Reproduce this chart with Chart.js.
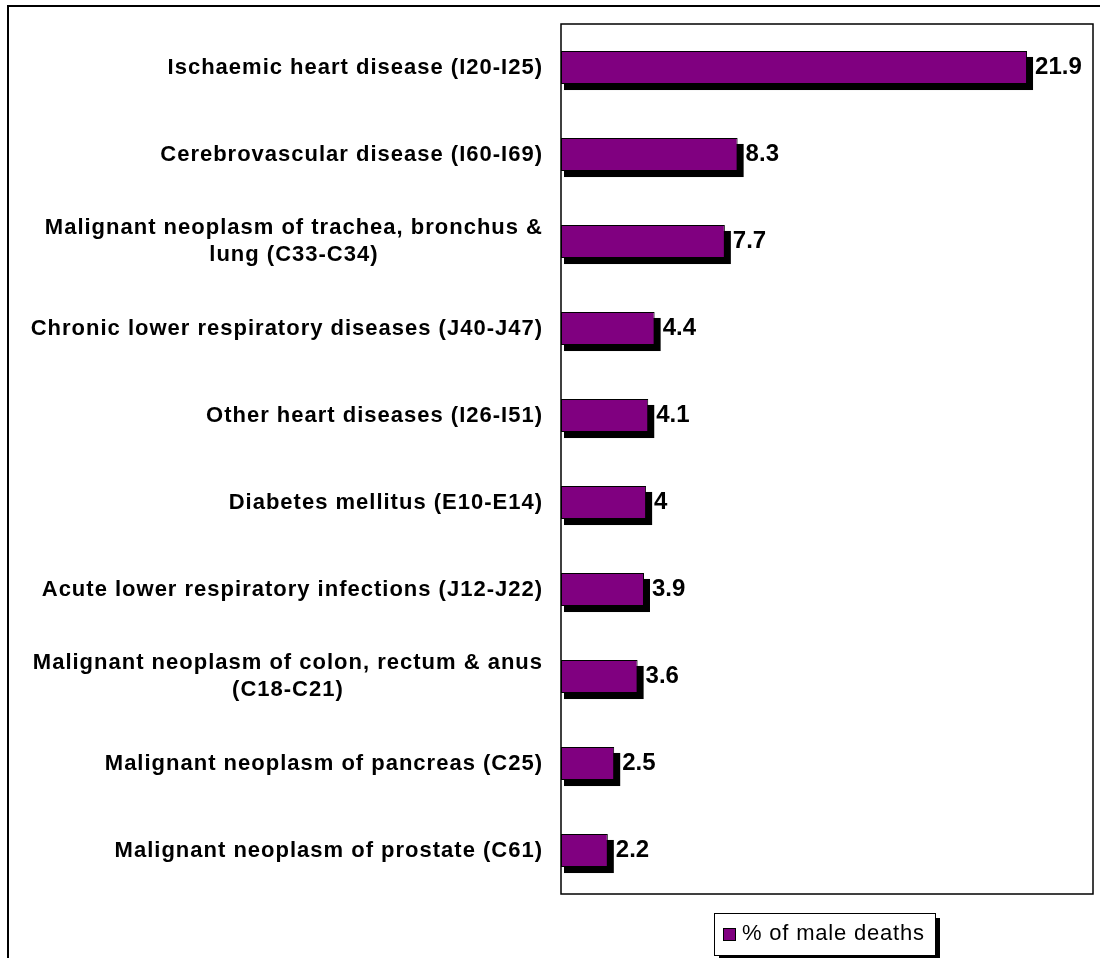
<!DOCTYPE html>
<html>
<head>
<meta charset="utf-8">
<script src="https://cdn.jsdelivr.net/npm/chart.js@4.4.1/dist/chart.umd.min.js"></script>
<style>
  body { margin: 0; background: #fff; }
  canvas { display: block; }
</style>
</head>
<body>
<canvas id="deaths" width="1100" height="958"></canvas>
<script>
// leading causes of death, males
const causes = [
    ['Ischaemic heart disease (I20-I25)'],
    ['Cerebrovascular disease (I60-I69)'],
    ['Malignant neoplasm of trachea, bronchus &', 'lung (C33-C34)'],
    ['Chronic lower respiratory diseases (J40-J47)'],
    ['Other heart diseases (I26-I51)'],
    ['Diabetes mellitus (E10-E14)'],
    ['Acute lower respiratory infections (J12-J22)'],
    ['Malignant neoplasm of colon, rectum & anus', '(C18-C21)'],
    ['Malignant neoplasm of pancreas (C25)'],
    ['Malignant neoplasm of prostate (C61)']
];
const maleDeaths = [21.9, 8.3, 7.7, 4.4, 4.1, 4, 3.9, 3.6, 2.5, 2.2];
const seriesName = '% of male deaths';
const xMax = 25;

const PURPLE = '#800080';
const FONT = 'Arial, "Liberation Sans", sans-serif';

// black drop shadow behind every bar
const barShadow = {
    id: 'barShadow',
    beforeDatasetsDraw(chart) {
        const ctx = chart.ctx;
        ctx.save();
        ctx.fillStyle = '#000';
        chart.getDatasetMeta(0).data.forEach(bar => {
            const h = bar.height;
            ctx.fillRect(bar.base + 3, bar.y - h / 2 + 6, bar.x - bar.base + 3, h);
        });
        ctx.restore();
    }
};

// frame, plot box, category labels, value labels, legend
const decorations = {
    id: 'decorations',
    beforeDraw(chart) {
        const ctx = chart.ctx;
        ctx.save();
        ctx.strokeStyle = '#000';
        ctx.lineWidth = 2;
        ctx.strokeRect(8, 6, 1200, 1200);
        ctx.restore();
    },
    afterDatasetsDraw(chart) {
        const ctx = chart.ctx;
        const area = chart.chartArea;
        const yScale = chart.scales.y;
        ctx.save();

        // plot border
        ctx.strokeStyle = '#000';
        ctx.lineWidth = 1.5;
        ctx.strokeRect(area.left, area.top, area.right - area.left, area.bottom - area.top);

        // category labels, wrapped lines centred on each other
        ctx.fillStyle = '#000';
        ctx.font = 'bold 22px ' + FONT;
        ctx.letterSpacing = '1px';
        ctx.textBaseline = 'middle';
        const labelRight = area.left - 18;
        const lineH = 27;
        causes.forEach((lines, i) => {
            const cy = yScale.getPixelForValue(i);
            const widths = lines.map(l => ctx.measureText(l).width);
            const blockW = Math.max(...widths);
            const centre = labelRight - blockW / 2;
            lines.forEach((line, j) => {
                const y = cy + (j - (lines.length - 1) / 2) * lineH;
                ctx.textAlign = 'center';
                ctx.fillText(line, centre, y);
            });
        });

        // value labels
        ctx.letterSpacing = '0px';
        ctx.font = 'bold 24px ' + FONT;
        ctx.textAlign = 'left';
        chart.getDatasetMeta(0).data.forEach((bar, i) => {
            ctx.fillText(String(maleDeaths[i]), bar.x + 8, bar.y);
        });

        // legend box
        const lx = 714, ly = 913, lw = 221, lh = 42;
        ctx.fillStyle = '#000';
        ctx.fillRect(lx + 5, ly + 5, lw, lh);
        ctx.fillStyle = '#fff';
        ctx.fillRect(lx, ly, lw, lh);
        ctx.strokeStyle = '#000';
        ctx.lineWidth = 1;
        ctx.strokeRect(lx + 0.5, ly + 0.5, lw, lh);
        ctx.fillStyle = PURPLE;
        ctx.fillRect(723, 928, 13, 13);
        ctx.strokeRect(723.5, 928.5, 12, 12);
        ctx.fillStyle = '#000';
        ctx.font = '22px ' + FONT;
        ctx.letterSpacing = '0.8px';
        ctx.textAlign = 'left';
        ctx.textBaseline = 'middle';
        ctx.fillText(seriesName, 742, 934);

        ctx.restore();
    }
};

new Chart(document.getElementById('deaths'), {
    type: 'bar',
    data: {
        labels: causes.map(c => c.join(' ')),
        datasets: [{
            label: seriesName,
            data: maleDeaths,
            backgroundColor: PURPLE,
            borderColor: '#000',
            borderWidth: 1,
            borderSkipped: false,
            categoryPercentage: 1,
            barPercentage: 0.38
        }]
    },
    options: {
        indexAxis: 'y',
        responsive: false,
        animation: false,
        devicePixelRatio: 1,
        layout: { padding: { top: 24, right: 7, bottom: 64, left: 0 } },
        scales: {
            x: { type: 'linear', min: 0, max: xMax, display: false },
            y: {
                display: true,
                grid: { display: false },
                border: { display: false },
                ticks: { display: false },
                afterFit(scale) { scale.width = 561; }
            }
        },
        plugins: {
            legend: { display: false },
            tooltip: { enabled: false }
        }
    },
    plugins: [barShadow, decorations]
});
</script>
</body>
</html>
